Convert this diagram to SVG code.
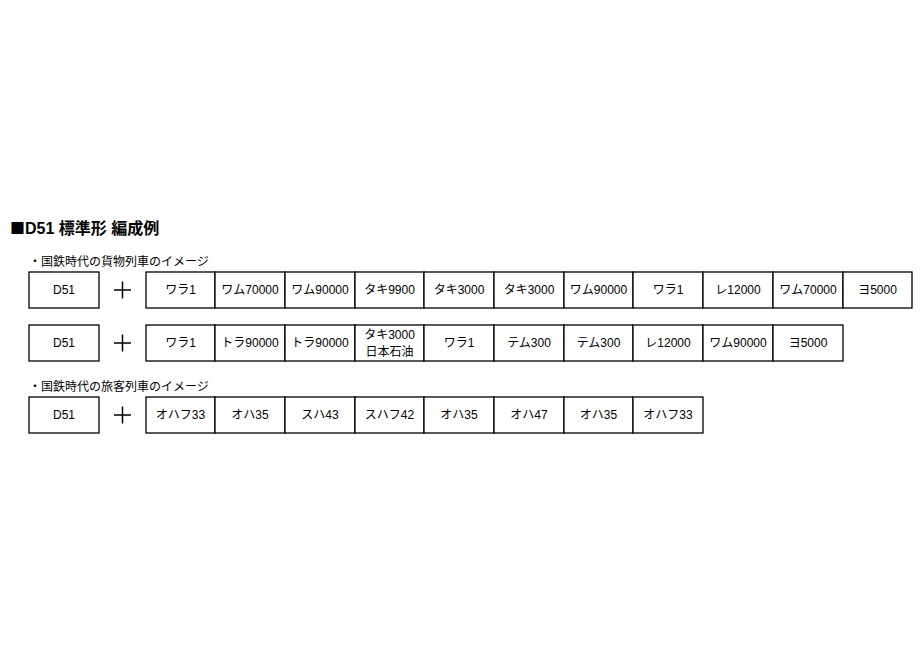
<svg xmlns="http://www.w3.org/2000/svg" width="924" height="660" viewBox="0 0 924 660">
<style>
.bg{fill:#fff}
.box{fill:#fff;stroke:#000;stroke-width:1.3}
.t{font-family:"Liberation Sans","Noto Sans CJK JP",sans-serif;font-size:12px;fill:#000;text-anchor:middle;dominant-baseline:central}
.h{font-family:"Liberation Sans","Noto Sans CJK JP",sans-serif;font-size:12px;fill:#000}
.title{font-family:"Liberation Sans","Noto Sans CJK JP",sans-serif;font-size:16px;font-weight:bold;fill:#000}
.sq{font-family:"Noto Sans CJK JP",sans-serif;font-size:15px}
.plus{stroke:#000;stroke-width:1.5}
</style>
<rect class="bg" x="0" y="0" width="924" height="660"/>
<text class="title" x="10" y="234"><tspan class="sq">■</tspan>D51 標準形 編成例</text>
<text class="h" x="29" y="266">・国鉄時代の貨物列車のイメージ</text>
<text class="h" x="29" y="391">・国鉄時代の旅客列車のイメージ</text>

<g id="row1">
<g id="r1-loco"><rect class="box" x="29" y="272" width="70" height="36"/><text class="t" x="64" y="290">D51</text></g>
<g id="r1-plus"><line class="plus" x1="114" y1="290" x2="131" y2="290"/><line class="plus" x1="122.5" y1="281.5" x2="122.5" y2="298.5"/></g>
<g id="r1-c1"><rect class="box" x="146" y="272" width="69" height="36"/><text class="t" x="180.5" y="290">ワラ1</text></g>
<g id="r1-c2"><rect class="box" x="215" y="272" width="70" height="36"/><text class="t" x="250" y="290">ワム70000</text></g>
<g id="r1-c3"><rect class="box" x="285" y="272" width="70" height="36"/><text class="t" x="320" y="290">ワム90000</text></g>
<g id="r1-c4"><rect class="box" x="355" y="272" width="69" height="36"/><text class="t" x="389.5" y="290">タキ9900</text></g>
<g id="r1-c5"><rect class="box" x="424" y="272" width="70" height="36"/><text class="t" x="459" y="290">タキ3000</text></g>
<g id="r1-c6"><rect class="box" x="494" y="272" width="70" height="36"/><text class="t" x="529" y="290">タキ3000</text></g>
<g id="r1-c7"><rect class="box" x="564" y="272" width="69" height="36"/><text class="t" x="598.5" y="290">ワム90000</text></g>
<g id="r1-c8"><rect class="box" x="633" y="272" width="70" height="36"/><text class="t" x="668" y="290">ワラ1</text></g>
<g id="r1-c9"><rect class="box" x="703" y="272" width="70" height="36"/><text class="t" x="738" y="290">レ12000</text></g>
<g id="r1-c10"><rect class="box" x="773" y="272" width="70" height="36"/><text class="t" x="808" y="290">ワム70000</text></g>
<g id="r1-c11"><rect class="box" x="843" y="272" width="69" height="36"/><text class="t" x="877.5" y="290">ヨ5000</text></g>
</g>

<g id="row2">
<g id="r2-loco"><rect class="box" x="29" y="325" width="70" height="36"/><text class="t" x="64" y="343">D51</text></g>
<g id="r2-plus"><line class="plus" x1="114" y1="343" x2="131" y2="343"/><line class="plus" x1="122.5" y1="334.5" x2="122.5" y2="351.5"/></g>
<g id="r2-c1"><rect class="box" x="146" y="325" width="69" height="36"/><text class="t" x="180.5" y="343">ワラ1</text></g>
<g id="r2-c2"><rect class="box" x="215" y="325" width="70" height="36"/><text class="t" x="250" y="343">トラ90000</text></g>
<g id="r2-c3"><rect class="box" x="285" y="325" width="70" height="36"/><text class="t" x="320" y="343">トラ90000</text></g>
<g id="r2-c4"><rect class="box" x="355" y="325" width="69" height="36"/><text class="t" x="389.5" y="334.5">タキ3000</text><text class="t" x="389.5" y="352">日本石油</text></g>
<g id="r2-c5"><rect class="box" x="424" y="325" width="70" height="36"/><text class="t" x="459" y="343">ワラ1</text></g>
<g id="r2-c6"><rect class="box" x="494" y="325" width="70" height="36"/><text class="t" x="529" y="343">テム300</text></g>
<g id="r2-c7"><rect class="box" x="564" y="325" width="69" height="36"/><text class="t" x="598.5" y="343">テム300</text></g>
<g id="r2-c8"><rect class="box" x="633" y="325" width="70" height="36"/><text class="t" x="668" y="343">レ12000</text></g>
<g id="r2-c9"><rect class="box" x="703" y="325" width="70" height="36"/><text class="t" x="738" y="343">ワム90000</text></g>
<g id="r2-c10"><rect class="box" x="773" y="325" width="70" height="36"/><text class="t" x="808" y="343">ヨ5000</text></g>
</g>

<g id="row3">
<g id="r3-loco"><rect class="box" x="29" y="397" width="70" height="36"/><text class="t" x="64" y="415">D51</text></g>
<g id="r3-plus"><line class="plus" x1="114" y1="415" x2="131" y2="415"/><line class="plus" x1="122.5" y1="406.5" x2="122.5" y2="423.5"/></g>
<g id="r3-c1"><rect class="box" x="146" y="397" width="69" height="36"/><text class="t" x="180.5" y="415">オハフ33</text></g>
<g id="r3-c2"><rect class="box" x="215" y="397" width="70" height="36"/><text class="t" x="250" y="415">オハ35</text></g>
<g id="r3-c3"><rect class="box" x="285" y="397" width="70" height="36"/><text class="t" x="320" y="415">スハ43</text></g>
<g id="r3-c4"><rect class="box" x="355" y="397" width="69" height="36"/><text class="t" x="389.5" y="415">スハフ42</text></g>
<g id="r3-c5"><rect class="box" x="424" y="397" width="70" height="36"/><text class="t" x="459" y="415">オハ35</text></g>
<g id="r3-c6"><rect class="box" x="494" y="397" width="70" height="36"/><text class="t" x="529" y="415">オハ47</text></g>
<g id="r3-c7"><rect class="box" x="564" y="397" width="69" height="36"/><text class="t" x="598.5" y="415">オハ35</text></g>
<g id="r3-c8"><rect class="box" x="633" y="397" width="70" height="36"/><text class="t" x="668" y="415">オハフ33</text></g>
</g>
<g id="connectors"></g>
</svg>
